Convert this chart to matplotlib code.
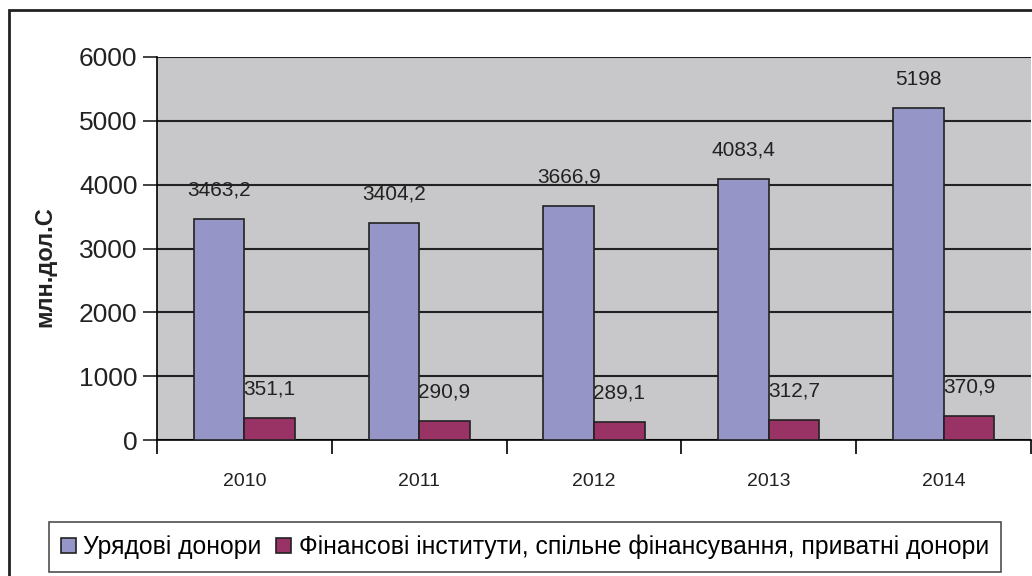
import numpy as np
import matplotlib
matplotlib.use("Agg")
import matplotlib.pyplot as plt
from matplotlib.patches import Rectangle

plt.rcParams['font.family'] = ['Liberation Sans', 'DejaVu Sans']

years = ["2010", "2011", "2012", "2013", "2014"]
gov_donors = [3463.2, 3404.2, 3666.9, 4083.4, 5198]
fin_inst = [351.1, 290.9, 289.1, 312.7, 370.9]
gov_labels = ["3463,2", "3404,2", "3666,9", "4083,4", "5198"]
fin_labels = ["351,1", "290,9", "289,1", "312,7", "370,9"]
series_names = ["Урядові донори",
                "Фінансові інститути, спільне фінансування, приватні донори"]

blue = "#9595C8"
maroon = "#993366"

fig = plt.figure(figsize=(10.32, 5.76), dpi=100)
ax = fig.add_axes([157 / 1032, 1 - 440 / 576, 874 / 1032, 383 / 576])

# outer chart frame
fig.patches.append(Rectangle((9 / 1032, -0.05), 1.2, 1 - 10 / 576 + 0.05,
                             transform=fig.transFigure, fill=False,
                             edgecolor="#222222", linewidth=2))

x = np.arange(len(years))
w = 0.29
b1 = ax.bar(x - w / 2, gov_donors, w, color=blue, edgecolor="#222222",
            linewidth=1.2, label=series_names[0], zorder=3)
b2 = ax.bar(x + w / 2, fin_inst, w, color=maroon, edgecolor="#222222",
            linewidth=1.2, label=series_names[1], zorder=3)

for rect, lab in zip(b1, gov_labels):
    ax.annotate(lab, (rect.get_x() + rect.get_width() / 2, rect.get_height()),
                xytext=(0, 14), textcoords="offset points", ha="center",
                va="bottom", fontsize=15, color="#222222")
for rect, lab in zip(b2, fin_labels):
    ax.annotate(lab, (rect.get_x() + rect.get_width() / 2, rect.get_height()),
                xytext=(0, 14), textcoords="offset points", ha="center",
                va="bottom", fontsize=15, color="#222222")

ax.set_facecolor("#C8C8CA")
ax.set_ylim(0, 6000)
ax.set_xlim(-0.5, len(years) - 0.5)
ax.set_yticks(np.arange(0, 6001, 1000))
ax.tick_params(axis="y", labelsize=19, length=10, width=1.2, direction="out",
               pad=4, colors="#222222")
ax.set_xticks(x)
ax.set_xticklabels(years, fontsize=14)
ax.set_xticks(np.arange(-0.5, len(years)), minor=True)
ax.tick_params(axis="x", which="major", length=0, pad=24, colors="#222222")
ax.tick_params(axis="x", which="minor", length=10, width=1.2)
ax.yaxis.grid(True, color="#222222", linewidth=1.5, zorder=0)
ax.set_axisbelow(True)
for s in ["top", "right"]:
    ax.spines[s].set_visible(False)
ax.spines["left"].set_linewidth(1.2)
ax.spines["bottom"].set_linewidth(1.2)

fig.text(45 / 1032, 1 - 267 / 576, "млн.дол.С", rotation=90, ha="center",
         va="center", fontsize=17, fontweight="bold", color="#222222")

leg = fig.legend(loc="center", bbox_to_anchor=(525 / 1032, 1 - 547 / 576),
                 ncol=2, fontsize=17.8, frameon=True, fancybox=False,
                 handlelength=0.6, handleheight=0.6, handletextpad=0.3,
                 columnspacing=0.6, borderpad=0.5)
leg.get_frame().set_edgecolor("#222222")
leg.get_frame().set_linewidth(1.2)

fig.savefig("out.png", dpi=100)
